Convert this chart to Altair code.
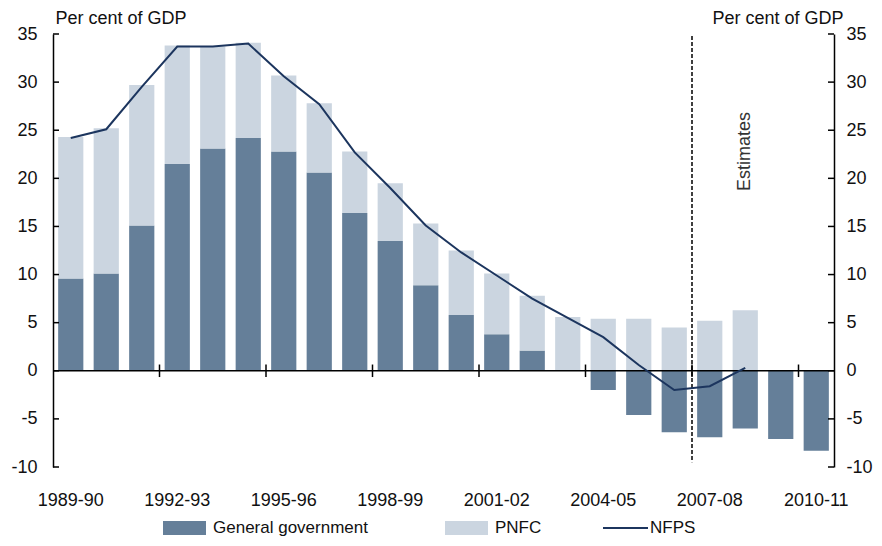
import altair as alt
import pandas as pd

years = ["1989-90", "1990-91", "1991-92", "1992-93", "1993-94", "1994-95",
         "1995-96", "1996-97", "1997-98", "1998-99", "1999-00", "2000-01",
         "2001-02", "2002-03", "2003-04", "2004-05", "2005-06", "2006-07",
         "2007-08", "2008-09", "2009-10", "2010-11"]
general_government = [9.6, 10.1, 15.1, 21.5, 23.1, 24.2, 22.8, 20.6, 16.4, 13.5, 8.9,
                      5.8, 3.8, 2.1, 0.0, -2.0, -4.6, -6.4, -6.9, -6.0, -7.1, -8.3]
pnfc = [14.7, 15.1, 14.6, 12.3, 10.6, 9.9, 7.9, 7.2, 6.4, 6.0, 6.4,
        6.7, 6.3, 5.7, 5.6, 5.4, 5.4, 4.5, 5.2, 6.3, 0.0, 0.0]
nfps = [24.2, 25.1, 29.5, 33.7, 33.7, 34.0, 30.6, 27.7, 22.7, 19.0, 15.1,
        12.3, 9.9, 7.5, 5.5, 3.5, 0.6, -2.0, -1.6, 0.3, None, None]
label_years = ["1989-90", "1992-93", "1995-96", "1998-99", "2001-02",
               "2004-05", "2007-08", "2010-11"]
y_ticks = [-10, -5, 0, 5, 10, 15, 20, 25, 30, 35]
series_names = ["General government", "PNFC", "NFPS"]
estimates_year = "2007-08"
estimates_label_year = "2008-09"
y_title = "Per cent of GDP"

W, H = 781, 433
FONT = "Liberation Sans"
C_GG = "#657f99"
C_PNFC = "#cbd5e0"
C_LINE = "#1c355e"

bars_df = pd.DataFrame(
    [{"year": y, "series": series_names[0], "value": g, "ord": 0}
     for y, g in zip(years, general_government)] +
    [{"year": y, "series": series_names[1], "value": p, "ord": 1}
     for y, p in zip(years, pnfc)]
)
line_df = pd.DataFrame({"year": years, "nfps": nfps}).dropna()
xtick_df = pd.DataFrame({"year": label_years[1:]})
ytick_df = pd.DataFrame({"v": y_ticks})

xs = alt.Scale(domain=years, paddingInner=0, paddingOuter=0)
ys = alt.Scale(domain=[-10, 35], nice=False, zero=False)

left_axis = alt.Axis(values=y_ticks, ticks=False, domain=True, domainColor="black",
                     domainWidth=1.5, labelPadding=16, labelFontSize=18, labelFont=FONT,
                     labelColor="#111", labelExpr="'' + datum.value", grid=False,
                     title=y_title, titleAngle=0,
                     titleX=2, titleY=-11, titleAlign="left", titleBaseline="alphabetic",
                     titleFontWeight="normal", titleFontSize=18, titleFont=FONT,
                     titleColor="#111")
right_axis = alt.Axis(values=y_ticks, orient="right", ticks=False, domain=True,
                      domainColor="black", domainWidth=1.5, labelPadding=12,
                      labelFontSize=18, labelFont=FONT, labelColor="#111",
                      labelExpr="'' + datum.value", grid=False,
                      title=y_title, titleAngle=0, titleX=9, titleY=-11,
                      titleAlign="right", titleBaseline="alphabetic",
                      titleFontWeight="normal", titleFontSize=18, titleFont=FONT,
                      titleColor="#111")
x_axis = alt.Axis(values=label_years, ticks=False, domain=False, labelPadding=24,
                  labelFontSize=18, labelFont=FONT, labelColor="#111", labelAngle=0,
                  title=None, grid=False)

bars = alt.Chart(bars_df).mark_bar(width=alt.RelativeBandSize(0.71)).encode(
    x=alt.X("year:N", scale=xs, axis=x_axis),
    y=alt.Y("value:Q", scale=ys, stack="zero", axis=left_axis),
    color=alt.Color("series:N", scale=alt.Scale(domain=series_names[:2],
                                                range=[C_GG, C_PNFC]), legend=None),
    order=alt.Order("ord:Q"),
)

zero_line = alt.Chart(alt.Data(values=[{}])).mark_rule(color="black", strokeWidth=1.5).encode(
    y=alt.Y(datum=0, scale=ys, axis=None),
    x=alt.value(0), x2=alt.value(W),
)

xticks = alt.Chart(xtick_df).mark_rule(color="black", strokeWidth=1.5).encode(
    x=alt.X("year:N", scale=xs, bandPosition=0),
    y=alt.Y(datum=0.65, scale=ys, axis=None),
    y2=alt.Y2(datum=-0.65),
)

yticks_left = alt.Chart(ytick_df).mark_rule(color="black", strokeWidth=1.5).encode(
    y=alt.Y("v:Q", scale=ys, axis=None),
    x=alt.value(0), x2=alt.value(6),
)
yticks_right = alt.Chart(ytick_df).mark_rule(color="black", strokeWidth=1.5).encode(
    y=alt.Y("v:Q", scale=ys, axis=right_axis),
    x=alt.value(W - 6), x2=alt.value(W),
)

dashed = alt.Chart(pd.DataFrame({"year": [estimates_year]})).mark_rule(
    color="black", strokeWidth=1.5, strokeDash=[4, 2]).encode(
    x=alt.X("year:N", scale=xs, bandPosition=0),
    y=alt.Y(datum=34.8, scale=ys, axis=None),
    y2=alt.Y2(datum=-9.5),
)

line = alt.Chart(line_df).mark_line(color=C_LINE, strokeWidth=2).encode(
    x=alt.X("year:N", scale=xs),
    y=alt.Y("nfps:Q", scale=ys, axis=None),
)

estimates = alt.Chart(pd.DataFrame({"year": [estimates_label_year]})).mark_text(
    text="Estimates", angle=270, fontSize=18, font=FONT, color="#333").encode(
    x=alt.X("year:N", scale=xs),
    y=alt.Y(datum=22.8, scale=ys, axis=None),
)

one = alt.Data(values=[{}])
LY = 494
leg_gg = alt.Chart(one).mark_rect(color=C_GG).encode(
    x=alt.value(110), x2=alt.value(153), y=alt.value(LY - 7), y2=alt.value(LY + 7))
leg_gg_t = alt.Chart(one).mark_text(text=series_names[0], align="left", baseline="middle",
                                    fontSize=17, font=FONT, color="#111").encode(
    x=alt.value(160), y=alt.value(LY))
leg_p = alt.Chart(one).mark_rect(color=C_PNFC).encode(
    x=alt.value(392), x2=alt.value(435), y=alt.value(LY - 7), y2=alt.value(LY + 7))
leg_p_t = alt.Chart(one).mark_text(text=series_names[1], align="left", baseline="middle",
                                   fontSize=17, font=FONT, color="#111").encode(
    x=alt.value(442), y=alt.value(LY))
leg_l = alt.Chart(one).mark_rule(color=C_LINE, strokeWidth=2).encode(
    x=alt.value(550), x2=alt.value(595), y=alt.value(LY))
leg_l_t = alt.Chart(one).mark_text(text=series_names[2], align="left", baseline="middle",
                                   fontSize=17, font=FONT, color="#111").encode(
    x=alt.value(597), y=alt.value(LY))

chart = alt.layer(
    bars, zero_line, xticks, yticks_left, yticks_right, dashed, line, estimates,
    leg_gg, leg_gg_t, leg_p, leg_p_t, leg_l, leg_l_t,
).resolve_axis(y="independent").properties(
    width=W, height=H,
    autosize=alt.AutoSizeParams(type="none"),
    padding={"left": 45, "top": 26, "right": 40, "bottom": 71},
).configure_view(stroke=None)

chart.save("out.html", embed_options={"renderer": "svg", "actions": False})
